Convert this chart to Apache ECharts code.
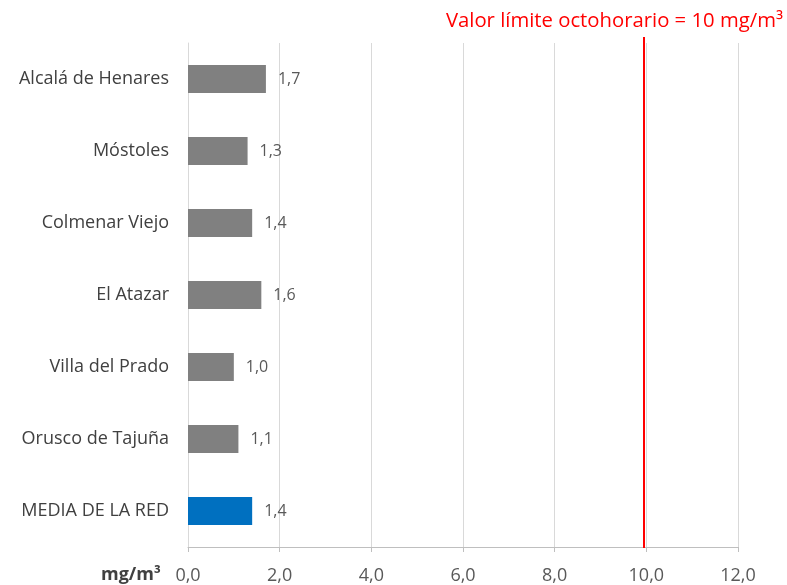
<!DOCTYPE html>
<html><head><meta charset="utf-8">
<script src="https://cdn.jsdelivr.net/npm/echarts@6/dist/echarts.min.js"></script>
<style>html,body{margin:0;padding:0;background:#fff}#c{width:787px;height:585px}</style>
</head><body><div id="c"></div>
<script>
const categories = ["Alcalá de Henares","Móstoles","Colmenar Viejo","El Atazar","Villa del Prado","Orusco de Tajuña","MEDIA DE LA RED"];
const values = [1.7,1.3,1.4,1.6,1.0,1.1,1.4];
const barColors = ["#808080","#808080","#808080","#808080","#808080","#808080","#0070C0"];
const limitValue = 9.95;
const limitLabel = "Valor límite octohorario = 10 mg/m³";
const unitLabel = "mg/m³";
const FONT = "'Open Sans', 'Noto Sans', sans-serif";

const chart = echarts.init(document.getElementById('c'));
chart.setOption({
  animation:false,
  grid:{left:188,right:49,top:43,bottom:37,containLabel:false},
  xAxis:{type:'value',min:0,max:12,interval:2,
    axisLine:{show:true,lineStyle:{color:'#BFBFBF',width:1}},
    axisTick:{show:true,length:5,lineStyle:{color:'#BFBFBF'}},
    splitLine:{show:true,lineStyle:{color:'#D9D9D9',width:1}},
    axisLabel:{margin:20,fontSize:18,color:'#595959',fontFamily:FONT,
      formatter:v=>v.toFixed(1).replace('.',',')}},
  yAxis:{type:'category',data:categories,inverse:true,
    axisLine:{show:true,lineStyle:{color:'#D9D9D9'}},
    axisTick:{show:false},
    axisLabel:{margin:19,fontSize:18,color:'#404040',fontFamily:FONT}},
  series:[{type:'bar',barWidth:28,
    data:values.map((v,i)=>({value:v,itemStyle:{color:barColors[i]}})),
    label:{show:true,position:'right',distance:12,fontSize:16,color:'#595959',fontFamily:FONT,
      formatter:p=>p.value.toFixed(1).replace('.',',')},
    markLine:{symbol:'none',silent:true,label:{show:false},
      lineStyle:{color:'#FF0000',width:2,type:'solid'},
      data:[[{coord:[limitValue,0],y:37},{coord:[limitValue,0],y:548}]]}
  }],
  graphic:[
    {type:'text',right:4,top:11,style:{text:limitLabel,fontSize:20.3,fill:'#FF0000',fontFamily:FONT}},
    {type:'text',left:101,top:566,style:{text:unitLabel,fontSize:18,fontWeight:'bold',fill:'#404040',fontFamily:FONT}}
  ]
});
</script></body></html>
